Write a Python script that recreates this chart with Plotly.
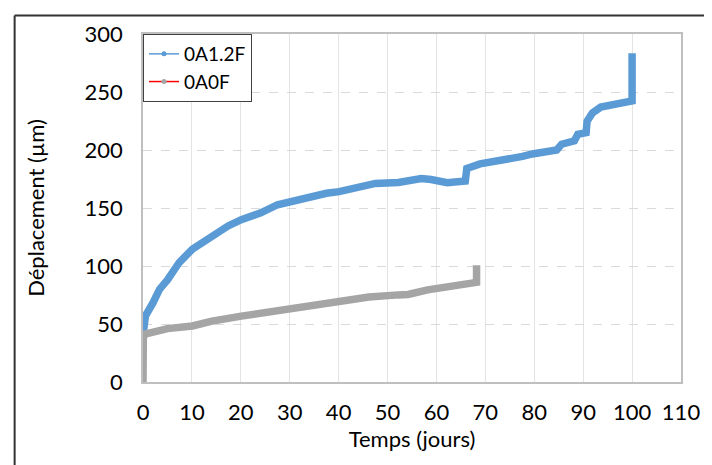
import plotly.graph_objects as go

# ---- data ----
series_a_name = "0A1.2F"
series_a_t = [0, 0.1, 0.5, 2, 3.4, 5, 7.4, 10.1, 14.1, 17.4, 20.1, 24.1, 27.5, 30.1,
              34.1, 37.5, 40.1, 44.2, 47.5, 52.2, 55, 56.9, 58.9, 62.2, 65.9, 66.2,
              68.9, 73.5, 77.6, 79.6, 84.6, 85.6, 88.2, 88.9, 90.6, 90.8, 91.9, 93.6,
              96.3, 100, 100]
series_a_y = [40, 53, 57, 68, 80, 88, 103, 114.5, 126, 134.5, 140, 145.8, 152.8, 155.7,
              160, 162.7, 164.1, 168.9, 171.2, 172, 173.5, 175.4, 174.6, 171.8, 173.2, 184,
              188, 190.9, 194.5, 196.6, 200, 205, 207.9, 213.6, 215, 224.8, 231.9, 237,
              239.6, 242.4, 283.5]

series_b_name = "0A0F"
series_b_t = [0, 0, 0.07, 0.4, 1.4, 2.1, 5, 10.1, 14.1, 20.1, 26.1, 30.1, 35, 40.1,
              46.2, 52.2, 54.2, 58.2, 62.2, 64.9, 68.2, 68.2]
series_b_y = [0, 37, 38.4, 41.2, 42.6, 43.5, 46, 48.3, 52.5, 56.8, 60.4, 63.8, 66.5, 69.5,
              73.2, 75.1, 75.5, 79.4, 82.2, 85, 85.9, 100.6]

x_ticks = [0, 10, 20, 30, 40, 50, 60, 70, 80, 90, 100, 110]
y_ticks = [0, 50, 100, 150, 200, 250, 300]

BLUE = "#5B9BD5"
GRAY = "#A5A5A5"
FONT = "Lato, 'Open Sans', sans-serif"
FS = 22

fig = go.Figure()

# thick data traces (dense markers in original)
fig.add_trace(go.Scatter(x=series_a_t, y=series_a_y, mode="lines",
                         line=dict(color=BLUE, width=7.5), showlegend=False,
                         hoverinfo="skip"))
fig.add_trace(go.Scatter(x=series_b_t, y=series_b_y, mode="lines",
                         line=dict(color=GRAY, width=7.5), showlegend=False,
                         hoverinfo="skip"))

# legend-only traces
fig.add_trace(go.Scatter(x=[None], y=[None], mode="lines+markers", name=series_a_name,
                         line=dict(color=BLUE, width=1.5),
                         marker=dict(color=BLUE, size=5)))
fig.add_trace(go.Scatter(x=[None], y=[None], mode="lines+markers", name=series_b_name,
                         line=dict(color="#FF0000", width=1.5),
                         marker=dict(color=GRAY, size=5)))

fig.update_layout(
    width=704, height=457,
    margin=dict(l=135, r=20, t=19, b=83),
    paper_bgcolor="white", plot_bgcolor="white",
    font=dict(family=FONT, size=FS, color="#000000"),
    legend=dict(x=0, y=1, xanchor="left", yanchor="top",
                bgcolor="white", bordercolor="#404040", borderwidth=1,
                font=dict(size=19), itemwidth=30,
                tracegroupgap=0),
    xaxis=dict(range=[0, 110], tickvals=x_ticks, showgrid=True,
               gridcolor="#E3E3E3", gridwidth=1,
               showline=True, linecolor="#BFBFBF", linewidth=1.5, mirror=True,
               ticks="outside", ticklen=10, tickcolor="rgba(0,0,0,0)",
               zeroline=False,
               title=dict(text="Temps (jours)", standoff=7,
                          font=dict(size=FS))),
    yaxis=dict(range=[0, 300], tickvals=y_ticks, showgrid=True,
               gridcolor="#DADADA", gridwidth=1, griddash="dash",
               showline=True, linecolor="#BFBFBF", linewidth=1.5, mirror=True,
               ticks="outside", ticklen=14, tickcolor="rgba(0,0,0,0)",
               zeroline=False,
               title=dict(text="Déplacement (µm)", standoff=34,
                          font=dict(size=FS))),
    shapes=[
        dict(type="line", xref="paper", yref="paper",
             x0=-0.2386, x1=-0.2386, y0=1.0535, y1=-0.3,
             line=dict(color="#333333", width=2)),
        dict(type="line", xref="paper", yref="paper",
             x0=-0.2386, x1=1.05, y0=1.0535, y1=1.0535,
             line=dict(color="#333333", width=2)),
    ],
)

fig.write_html("out.html")
